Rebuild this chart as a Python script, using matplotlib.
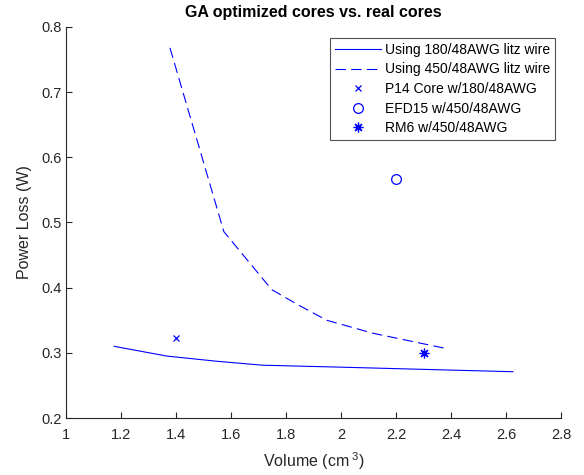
import matplotlib
matplotlib.use('Agg')
import matplotlib.pyplot as plt

# GA optimized designs, 180/48AWG litz
vol_180 = [1.175, 1.367, 1.55, 1.716, 2.0, 2.625]
loss_180 = [0.310, 0.295, 0.287, 0.281, 0.278, 0.271]

# GA optimized designs, 450/48AWG litz
vol_450 = [1.378, 1.574, 1.748, 1.851, 1.948, 2.117, 2.378]
loss_450 = [0.768, 0.486, 0.397, 0.372, 0.350, 0.330, 0.307]

# real cores
p14 = (1.4, 0.322)
efd15 = (2.2, 0.566)
rm6 = (2.3, 0.300)

labels = ['Using 180/48AWG litz wire', 'Using 450/48AWG litz wire',
          'P14 Core w/180/48AWG', 'EFD15 w/450/48AWG', 'RM6 w/450/48AWG']

plt.rcParams['font.family'] = ['Liberation Sans', 'DejaVu Sans']
plt.rcParams['mathtext.fontset'] = 'custom'
plt.rcParams['mathtext.rm'] = 'Liberation Sans'
plt.rcParams['mathtext.it'] = 'Liberation Sans'
plt.rcParams['lines.scale_dashes'] = False

ax_col = '#262626'
blue = '#0000ff'

fig = plt.figure(figsize=(5.84, 4.75), dpi=100)
ax = fig.add_axes([66/584, 57/475, 495/584, 391/475])

ax.plot(vol_180, loss_180, color=blue, lw=0.8, label=labels[0])
ax.plot(vol_450, loss_450, color=blue, lw=0.8, linestyle=(0, (7.5, 3.8)), label=labels[1])
ax.plot(*p14, linestyle='none', marker='x', color=blue, ms=5, mew=0.9, label=labels[2])
ax.plot(*efd15, linestyle='none', marker='o', mfc='none', mec=blue, ms=7, mew=0.9, label=labels[3])
ax.plot(*rm6, linestyle='none', marker=(8, 2, 0), color=blue, ms=7, mew=0.9, label=labels[4])

ax.set_xlim(1, 2.8)
ax.set_ylim(0.2, 0.8)
ax.set_xticks([1, 1.2, 1.4, 1.6, 1.8, 2, 2.2, 2.4, 2.6, 2.8])
ax.set_xticklabels(['1', '1.2', '1.4', '1.6', '1.8', '2', '2.2', '2.4', '2.6', '2.8'])
ax.set_yticks([0.2, 0.3, 0.4, 0.5, 0.6, 0.7, 0.8])

for s in ['top', 'right']:
    ax.spines[s].set_visible(False)
for s in ['left', 'bottom']:
    ax.spines[s].set_color(ax_col)
    ax.spines[s].set_linewidth(0.8)
ax.tick_params(direction='in', length=4, width=0.8, color=ax_col,
               labelcolor=ax_col, labelsize=10.5, pad=3)
ax.tick_params(axis='x', pad=7)

ax.set_title('GA optimized cores vs. real cores', fontsize=11.5, fontweight='bold',
             color='black', pad=7)
ax.set_xlabel('Volume (cm$^{\\ 3}$)', fontsize=11.5, color=ax_col, labelpad=6)
ax.set_ylabel('Power Loss (W)', fontsize=11.5, color=ax_col, labelpad=7)

leg = ax.legend(loc='upper right', bbox_to_anchor=(555/584, 1 - 38/475),
                bbox_transform=fig.transFigure, borderaxespad=0,
                fontsize=10, frameon=True, fancybox=False, handlelength=3.3,
                handletextpad=0.3, labelspacing=0.4, borderpad=0.35)
leg.get_frame().set_edgecolor(ax_col)
leg.get_frame().set_linewidth(0.8)
for t in leg.get_texts():
    t.set_color('black')

fig.savefig('out.png', dpi=100)
